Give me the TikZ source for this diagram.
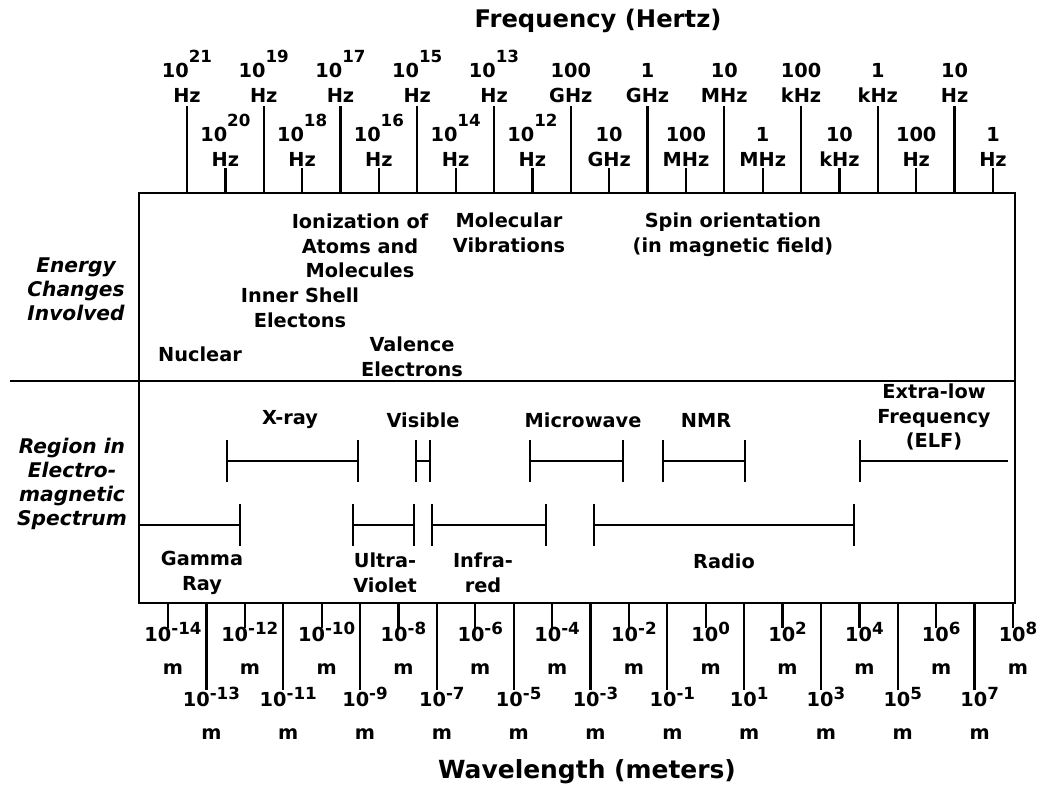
\documentclass[tikz,border=0pt]{standalone}
\usepackage{fontspec}
\setmainfont{DejaVu Sans}
\usetikzlibrary{arrows.meta}

\newcommand{\hiexp}[1]{\raisebox{9pt}{\fontsize{9.5}{9.5}\selectfont #1}}
\newcommand{\loexp}[1]{\raisebox{4pt}{\fontsize{9.5}{9.5}\selectfont #1}}

\begin{document}
\begin{tikzpicture}[
    x=0.02cm, y=-0.02cm,
    tick/.style={line width=1.3pt},
    frame/.style={line width=1pt},
    band/.style={line width=0.9pt},
    tk/.tip={Bar[width=0.84cm, line width=1.3pt]},
    fq/.style={font=\fontsize{11}{14.2}\selectfont\bfseries,
               align=center, inner sep=1pt, anchor=south},
    wl/.style={font=\fontsize{11}{18.7}\selectfont\bfseries,
               align=center, inner sep=1pt, anchor=north},
    lbl/.style={font=\fontsize{11}{14}\selectfont\bfseries,
                align=center, inner sep=0pt},
    side/.style={font=\fontsize{11.5}{13.6}\selectfont\bfseries\itshape,
                 align=center, inner sep=0pt},
    ttl/.style={font=\fontsize{13.8}{16}\selectfont\bfseries, inner sep=0pt},
  ]
  \useasboundingbox (0,0) rectangle (1039,788);

  %% FRAME
  \draw[frame] (139,193) rectangle (1015,603);
  \draw[frame] (10,381) -- (1015,381);

  %% FREQUENCY AXIS
  \node[ttl] (freq) at (598,21) {Frequency (Hertz)};
  \foreach \i/\txt in {0/{10\hiexp{21}\\Hz}, 2/{10\hiexp{19}\\Hz},
                       4/{10\hiexp{17}\\Hz}, 6/{10\hiexp{15}\\Hz},
                       8/{10\hiexp{13}\\Hz}, 10/{100\\GHz}, 12/{1\\GHz},
                       14/{10\\MHz}, 16/{100\\kHz}, 18/{1\\kHz}, 20/{10\\Hz}}{
    \draw[tick] (187+38.38*\i,193) -- (187+38.38*\i,106);
    \node[fq] (f\i) at (187+38.38*\i,105) {\txt};
  }
  \foreach \i/\txt in {1/{10\hiexp{20}\\Hz}, 3/{10\hiexp{18}\\Hz},
                       5/{10\hiexp{16}\\Hz}, 7/{10\hiexp{14}\\Hz},
                       9/{10\hiexp{12}\\Hz}, 11/{10\\GHz}, 13/{100\\MHz},
                       15/{1\\MHz}, 17/{10\\kHz}, 19/{100\\Hz}, 21/{1\\Hz}}{
    \draw[tick] (187+38.38*\i,193) -- (187+38.38*\i,168);
    \node[fq] (f\i) at (187+38.38*\i,169) {\txt};
  }

  %% WAVELENGTH AXIS
  \node[ttl, font=\fontsize{14.2}{16}\selectfont\bfseries] (wave) at (587,772)
    {Wavelength (meters)};
  \foreach \i in {0,2,...,22}{
    \pgfmathtruncatemacro{\ex}{\i-14}
    \draw[tick] (168+38.41*\i,603) -- (168+38.41*\i,628);
    \node[wl] (w\i) at (173+38.41*\i,620) {10\loexp{\ex}\\m};
  }
  \foreach \i in {1,3,...,21}{
    \pgfmathtruncatemacro{\ex}{\i-14}
    \draw[tick] (168+38.41*\i,603) -- (168+38.41*\i,690);
    \node[wl] (w\i) at (173+38.41*\i,685) {10\loexp{\ex}\\m};
  }

  %% ENERGY CHANGES
  \node[side] (energy) at (76,289) {Energy\\Changes\\Involved};
  \node[lbl] (ion)     at (360,246) {Ionization of\\Atoms and\\Molecules};
  \node[lbl] (vib)     at (509,233) {Molecular\\Vibrations};
  \node[lbl] (spin)    at (733,235) {Spin orientation\\(in magnetic field)};
  \node[lbl] (inner)   at (300,308) {Inner Shell\\Electons};
  \node[lbl] (nuclear) at (200,354) {Nuclear};
  \node[lbl] (valence) at (412,357) {Valence\\Electrons};

  %% SPECTRUM REGIONS
  \node[side] (region) at (72,484) {Region in\\Electro-\\magnetic\\Spectrum};

  \node[lbl] (xray)  at (290,420) {X-ray};
  \node[lbl] (vis)   at (423,420) {Visible};
  \node[lbl] (micro) at (583,420) {Microwave};
  \node[lbl] (nmr)   at (706,420) {NMR};
  \node[lbl] (elf)   at (934,417) {Extra-low\\Frequency\\(ELF)};
  \draw[band, tk-tk] (226,461) -- (359,461);
  \draw[band, tk-tk] (415,461) -- (431,461);
  \draw[band, tk-tk] (529,461) -- (624,461);
  \draw[band, tk-tk] (662,461) -- (746,461);
  \draw[band, tk-]   (859,461) -- (1008,461);

  \node[lbl] (gamma) at (202,573) {Gamma\\Ray};
  \node[lbl] (uv)    at (385,573) {Ultra-\\Violet};
  \node[lbl] (ir)    at (483,573) {Infra-\\red};
  \node[lbl] (radio) at (724,561) {Radio};
  \draw[band, -tk]   (139,525) -- (241,525);
  \draw[band, tk-tk] (352,525) -- (415,525);
  \draw[band, tk-tk] (431,525) -- (547,525);
  \draw[band, tk-tk] (593,525) -- (855,525);

\end{tikzpicture}
\end{document}
